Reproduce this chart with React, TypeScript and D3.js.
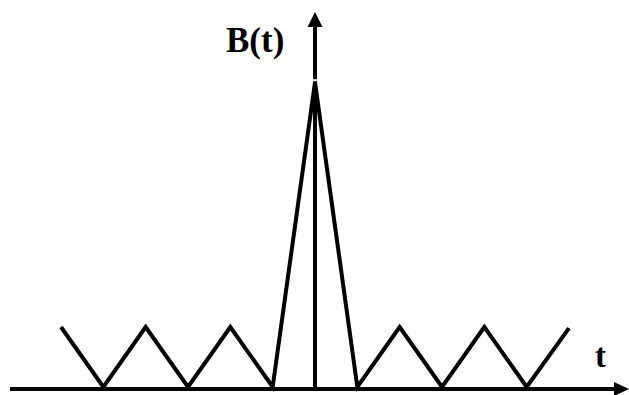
import React from "react";
import * as d3 from "d3";

// Vertices of B(t): time positions and values
const times = [-6, -5, -4, -3, -2, -1, 0, 1, 2, 3, 4, 5, 6];
const values = [1, 0, 1, 0, 1, 0, 5.08, 0, 1, 0, 1, 0, 0.98];

const yLabel = "B(t)";
const xLabel = "t";

const W = 629;
const H = 395;

export default function App() {
  const x = d3.scaleLinear().domain([-6, 6]).range([61, 569]);
  const y = d3.scaleLinear().domain([0, 1]).range([387, 327]);

  const pts: [number, number][] = times.map((t, i) => [t, values[i]]);
  const line = d3
    .line<[number, number]>()
    .x((d) => x(d[0]))
    .y((d) => y(d[1]));

  const axisY = 389;
  const x0 = x(0);
  const peakY = y(values[6]);

  return (
    <svg
      width={W}
      height={H}
      style={{ position: "absolute", left: 0, top: 0, background: "#fff" }}
    >
      <rect width={W} height={H} fill="#fff" />
      {/* horizontal axis with arrow */}
      <line x1={10} y1={axisY} x2={616} y2={axisY} stroke="#000" strokeWidth={4} />
      <path d={`M629,${axisY} L614,${axisY - 7} L614,${axisY + 7} Z`} fill="#000" />
      {/* vertical axis with arrow */}
      <line x1={x0} y1={axisY} x2={x0} y2={24} stroke="#000" strokeWidth={4} />
      <path d={`M${x0},12 L${x0 - 7.5},27 L${x0 + 7.5},27 Z`} fill="#000" />
      {/* signal */}
      <path
        d={line(pts) ?? ""}
        fill="none"
        stroke="#000"
        strokeWidth={4}
        strokeLinejoin="miter"
        strokeMiterlimit={20}
      />
      <line x1={x0 - 7} y1={peakY - 2} x2={x0 + 7} y2={peakY - 2} stroke="#fff" strokeWidth={2} />
      <line x1={x0} y1={peakY - 4} x2={x0} y2={60} stroke="#000" strokeWidth={4} />
      {/* labels */}
      <text
        x={226}
        y={52}
        fontFamily="'Liberation Serif', 'Times New Roman', serif"
        fontWeight="bold"
        fontSize={35}
        fill="#000"
      >
        {yLabel}
      </text>
      <text
        x={595}
        y={367}
        fontFamily="'Liberation Serif', 'Times New Roman', serif"
        fontWeight="bold"
        fontSize={33}
        fill="#000"
      >
        {xLabel}
      </text>
    </svg>
  );
}
